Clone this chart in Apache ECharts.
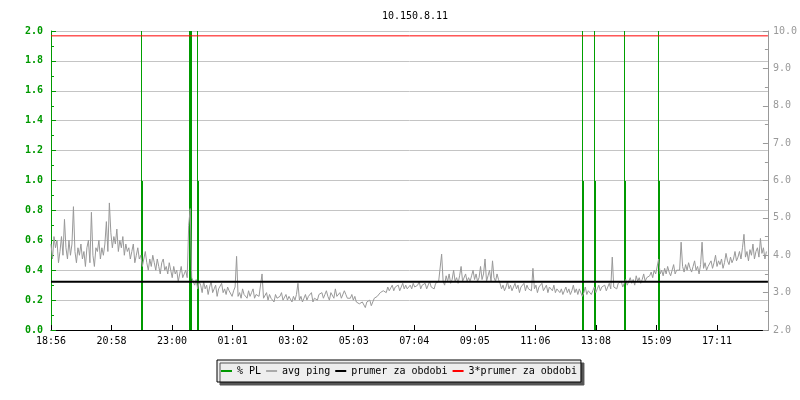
<!DOCTYPE html>
<html><head><meta charset="utf-8">
<script src="https://cdn.jsdelivr.net/npm/echarts@6/dist/echarts.min.js"></script>
<style>html,body{margin:0;padding:0;background:#fff}#c{width:800px;height:400px}</style>
</head><body><div id="c"></div>
<script>
const chartTitle = '10.150.8.11';
const tickLabels = ['18:56','20:58','23:00','01:01','03:02','05:03','07:04','09:05','11:06','13:08','15:09','17:11'];
const tickStepMin = 121.36;   // minutes between time labels
const spanMin = 1437;         // minutes shown
const pingStepMin = 3;        // sample step of avg ping (minutes)
const avgPing = [
  4.3,3.9,4.5,4.2,4.4,3.8,4.1,4.5,4.0,4.96,4.2,3.9,4.4,4.0,4.3,5.3,4.1,3.8,4.2,4.0,
  4.3,3.9,4.1,3.7,4.2,4.4,3.8,5.15,4.0,3.7,4.2,4.1,4.4,3.9,4.2,4.0,4.3,4.9,4.1,5.4,
  4.6,4.2,4.5,4.3,4.7,4.1,4.4,4.2,4.5,4.0,4.3,4.1,4.2,3.9,4.1,4.3,3.8,4.0,4.2,3.9,
  4.0,3.7,3.9,4.1,3.8,3.6,3.9,3.7,4.0,3.8,3.6,3.9,3.7,3.5,3.8,3.9,3.6,3.7,3.5,3.8,
  3.6,3.4,3.7,3.5,3.6,3.3,3.5,3.7,3.4,3.5,3.6,3.4,4.8,5.25,3.4,3.3,3.2,3.35,3.1,3.3,
  3.2,3.0,3.3,3.1,3.2,2.95,3.15,3.3,3.0,3.1,3.2,2.9,3.1,3.05,3.25,3.0,3.1,2.95,3.15,3.05,
  3.1,2.9,3.05,3.15,3.97,2.9,3.0,2.85,3.1,2.95,3.0,2.85,3.05,2.9,3.0,3.1,2.85,2.95,3.0,2.9,
  2.95,3.5,2.85,2.9,3.0,2.8,2.95,2.85,2.9,2.75,2.95,2.85,2.8,2.9,3.0,2.8,2.85,2.95,2.8,2.9,
  2.85,2.75,2.9,2.8,2.95,3.25,2.8,2.9,2.75,2.85,2.95,2.8,2.9,2.85,3.0,2.75,2.85,2.9,2.8,2.95,
  2.9,3.0,2.85,2.95,3.05,2.9,2.8,3.0,2.95,2.85,3.1,2.9,2.95,3.0,2.85,2.9,3.05,2.95,2.85,2.9,
  2.85,2.95,2.8,2.9,2.75,2.8,2.7,2.65,2.75,2.7,2.6,2.75,2.7,2.8,2.65,2.75,2.85,2.8,2.9,2.95,
  3.0,2.95,3.05,3.1,3.0,3.15,3.05,3.1,3.2,3.05,3.15,3.1,3.2,3.05,3.15,3.25,3.1,3.2,3.1,3.15,
  3.2,3.1,3.25,3.15,3.1,3.2,3.3,3.1,3.2,3.15,3.25,3.1,3.2,3.3,3.15,3.2,3.1,3.25,3.2,3.3,
  3.25,4.03,3.3,3.2,3.45,3.3,3.5,3.25,3.35,3.6,3.3,3.4,3.25,3.45,3.7,3.3,3.35,3.5,3.3,3.4,
  3.3,3.45,3.6,3.35,3.5,3.3,3.4,3.7,3.35,3.5,3.9,3.3,3.45,3.6,3.3,3.85,3.4,3.3,3.5,3.35,
  3.25,3.1,3.2,3.05,3.15,3.3,3.1,3.2,3.05,3.15,3.25,3.1,3.2,3.0,3.15,3.1,3.25,3.05,3.2,3.1,
  3.15,3.05,3.65,3.1,3.2,3.0,3.15,3.1,3.25,3.05,3.1,3.2,3.0,3.15,3.1,3.05,3.2,3.0,3.1,3.15,
  3.0,3.1,2.95,3.05,3.15,3.0,3.1,2.95,3.05,3.2,3.0,3.1,2.95,3.1,3.05,2.9,3.0,3.15,2.95,3.05,
  3.1,2.95,3.05,3.15,3.0,3.1,3.2,3.05,3.15,3.1,3.2,3.05,3.15,3.25,3.1,3.95,3.15,3.2,3.1,3.25,
  3.2,3.3,3.15,3.25,3.35,3.2,3.3,3.4,3.25,3.35,3.2,3.45,3.3,3.4,3.25,3.35,3.5,3.3,3.4,3.35,
  3.45,3.55,3.4,3.6,3.5,3.45,3.9,3.5,3.6,3.45,3.65,3.5,3.7,3.55,3.45,3.6,3.75,3.5,3.6,3.55,
  3.6,4.35,3.7,3.55,3.75,3.6,3.8,3.65,3.55,3.7,3.85,3.6,3.7,3.5,3.75,4.35,3.65,3.8,3.6,3.7,
  3.7,3.85,3.65,3.8,4.0,3.7,3.85,3.75,3.9,3.65,3.8,4.05,3.85,3.75,3.95,3.8,3.9,4.1,3.85,3.95,
  4.1,3.9,4.2,4.56,3.95,4.1,3.85,4.15,4.0,4.3,3.9,4.1,4.2,3.95,4.45,4.05,4.2,3.9,4.1
];
const plTimes  = [182, 279, 281, 294, 1066, 1090, 1150, 1218]; // minutes from start
const plValues = [1.0, 2.0, 2.0, 1.0, 1.0, 1.0, 1.0, 1.0];
const plPeak   = [2.0, 2.0, 2.0, 2.0, 2.0, 2.0, 2.0, 2.0];
const prumer = 3.29;
const prumer3 = 9.87;

const green = '#009900', grayC = '#999999', mono = 'DejaVu Sans Mono';
const pingData = avgPing.map((v, i) => [i * pingStepMin, v]);
const plBarData = plTimes.map((t, i) => [t, plValues[i]]);
const plPeakData = plTimes.map((t, i) => [t, plPeak[i]]);

function impulse(width, color) {
  return function (params, api) {
    const top = api.coord([api.value(0), api.value(1)]);
    const bot = api.coord([api.value(0), 0]);
    return { type: 'rect', shape: { x: Math.round(top[0] - width / 2), y: Math.round(top[1]), width: width,
      height: Math.round(bot[1]) - Math.round(top[1]) }, style: { fill: color } };
  };
}

const chart = echarts.init(document.getElementById('c'));
chart.setOption({
  animation: false,
  backgroundColor: '#fff',
  title: { text: chartTitle, left: 410, textAlign: 'center', top: 6,
    textStyle: { fontFamily: mono, fontSize: 10, fontWeight: 'normal', color: '#000' } },
  grid: { left: 51, right: 30, top: 31, bottom: 70 },
  legend: {
    left: 217, top: 360, padding: [6, 4], itemGap: 5, itemWidth: 11, itemHeight: 2,
    backgroundColor: '#eeeeee', borderColor: '#000', borderWidth: 1,
    shadowColor: '#555', shadowOffsetX: 3, shadowOffsetY: 3, shadowBlur: 0,
    textStyle: { fontFamily: mono, fontSize: 10, color: '#000' },
    data: [
      { name: '% PL', icon: 'rect', itemStyle: { color: green } },
      { name: 'avg ping', icon: 'rect', itemStyle: { color: '#aaaaaa' } },
      { name: 'prumer za obdobi', icon: 'rect', itemStyle: { color: '#000' } },
      { name: '3*prumer za obdobi', icon: 'rect', itemStyle: { color: '#ff0000' } }
    ]
  },
  xAxis: {
    type: 'value', min: 0, max: spanMin, interval: tickStepMin,
    axisLine: { onZero: false, lineStyle: { color: '#000', width: 1 } },
    axisTick: { inside: true, length: 5, lineStyle: { color: '#000' } },
    splitLine: { show: false },
    axisLabel: { fontFamily: mono, fontSize: 10, color: '#000', margin: 6, showMaxLabel: false,
      formatter: v => tickLabels[Math.round(v / tickStepMin)] || '' }
  },
  yAxis: [
    { type: 'value', min: 0, max: 2, interval: 0.2, position: 'left',
      axisLine: { show: true, lineStyle: { color: green } },
      axisTick: { show: true, inside: true, length: 5, lineStyle: { color: green } },
      minorTick: { show: true, splitNumber: 2, length: 3, lineStyle: { color: green } },
      splitLine: { show: true, lineStyle: { color: '#c4c4c4' } },
      axisLabel: { color: green, fontFamily: mono, fontSize: 10, fontWeight: 'bold', margin: 8,
        formatter: v => v.toFixed(1) } },
    { type: 'value', min: 2, max: 10, interval: 1, position: 'right',
      axisLine: { show: true, lineStyle: { color: grayC } },
      axisTick: { show: true, inside: true, length: 5, lineStyle: { color: grayC } },
      minorTick: { show: true, splitNumber: 2, length: 3, lineStyle: { color: grayC } },
      splitLine: { show: false },
      axisLabel: { color: grayC, fontFamily: mono, fontSize: 10, margin: 5,
        formatter: v => v.toFixed(1) } }
  ],
  series: [
    { name: '% PL', type: 'custom', xAxisIndex: 0, yAxisIndex: 0, renderItem: impulse(1, '#00a000'), data: plPeakData,
      itemStyle: { color: green }, z: 2 },
    { name: '% PL', type: 'custom', xAxisIndex: 0, yAxisIndex: 0, renderItem: impulse(2, green), data: plBarData,
      itemStyle: { color: green }, z: 2 },
    { name: 'avg ping', type: 'line', yAxisIndex: 1, data: pingData, showSymbol: false, symbol: 'none',
      lineStyle: { color: '#999999', width: 1 }, itemStyle: { color: '#999999' }, z: 3 },
    { name: 'prumer za obdobi', type: 'line', yAxisIndex: 1, data: [[0, prumer], [spanMin, prumer]],
      showSymbol: false, symbol: 'none', lineStyle: { color: '#000', width: 2 }, itemStyle: { color: '#000' }, z: 4 },
    { name: '3*prumer za obdobi', type: 'line', yAxisIndex: 1, data: [[0, prumer3], [spanMin, prumer3]],
      showSymbol: false, symbol: 'none', lineStyle: { color: '#ff0000', width: 1 }, itemStyle: { color: '#ff0000' }, z: 4 }
  ]
});
</script></body></html>
